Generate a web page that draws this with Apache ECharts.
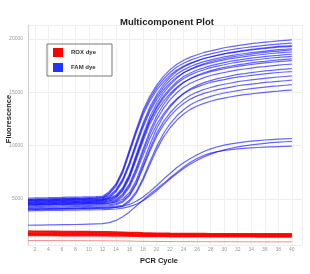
<!DOCTYPE html>
<html>
<head>
<meta charset="utf-8">
<script src="https://cdn.jsdelivr.net/npm/echarts@6/dist/echarts.min.js"></script>
<style>
  html, body { margin: 0; padding: 0; background: #fff; }
  #chart { width: 310px; height: 274px; }
</style>
</head>
<body>
<div id="chart"></div>
<script>
var cycles = [1,2,3,4,5,6,7,8,9,10,11,12,13,14,15,16,17,18,19,20,21,22,23,24,25,26,27,28,29,30,31,32,33,34,35,36,37,38,39,40];
var xTicks = ['2','4','6','8','10','12','14','16','18','20','22','24','26','28','30','32','34','36','38','40'];
var yTicks = ['5000','10000','15000','20000'];

// FAM dye wells
var fam01 = [5100,5110,5125,5135,5150,5160,5175,5190,5200,5215,5230,5250,5690,6420,7740,9650,11550,13310,14630,15650,16460,17120,17630,18000,18290,18510,18730,18870,19020,19170,19270,19370,19460,19550,19620,19700,19750,19810,19860,19900];
var fam02 = [5000,5010,5025,5035,5050,5060,5075,5090,5100,5115,5130,5150,5580,6310,7610,9490,11360,13100,14400,15410,16200,16850,17360,17720,18010,18230,18440,18590,18730,18880,18980,19080,19170,19250,19330,19400,19460,19510,19560,19600];
var fam03 = [4950,4960,4975,4985,5000,5010,5025,5040,5050,5065,5080,5100,5320,5890,6890,8460,10320,12110,13610,14750,15680,16400,16970,17370,17680,17940,18160,18330,18470,18610,18730,18830,18930,19010,19090,19160,19230,19290,19330,19370];
var fam04 = [4900,4910,4925,4935,4950,4960,4975,4990,5000,5015,5030,5050,5480,6190,7470,9330,11180,12890,14170,15170,15950,16590,17090,17450,17730,17950,18160,18300,18450,18590,18690,18790,18870,18960,19030,19100,19160,19220,19260,19300];
var fam05 = [4850,4860,4875,4885,4900,4910,4925,4940,4950,4965,4980,5000,5210,5780,6760,8310,10150,11910,13390,14520,15430,16140,16700,17100,17410,17660,17870,18040,18180,18320,18440,18540,18630,18720,18790,18860,18930,18990,19030,19070];
var fam06 = [4800,4810,4825,4835,4850,4860,4875,4890,4900,4915,4930,4950,5090,5370,6070,7340,9170,10990,12680,13940,14930,15700,16330,16820,17170,17450,17670,17880,18020,18160,18300,18400,18490,18580,18660,18730,18800,18860,18920,18960];
var fam07 = [4750,4760,4775,4785,4800,4810,4825,4840,4850,4865,4880,4900,5110,5670,6640,8170,9970,11710,13170,14280,15190,15880,16440,16830,17130,17380,17590,17760,17900,18040,18150,18240,18340,18420,18490,18560,18630,18690,18730,18770];
var fam08 = [4700,4710,4725,4735,4750,4760,4775,4790,4800,4815,4830,4850,4990,5260,5950,7190,8980,10760,12410,13650,14610,15370,15990,16470,16810,17090,17290,17500,17640,17780,17910,18010,18110,18190,18270,18340,18410,18460,18520,18560];
var fam09 = [4650,4660,4675,4685,4700,4710,4725,4740,4750,4765,4780,4800,4940,5210,5890,7110,8880,10650,12280,13500,14460,15200,15820,16290,16630,16900,17110,17310,17450,17580,17720,17820,17910,17990,18070,18140,18210,18260,18320,18360];
var fam10 = [4600,4610,4625,4635,4650,4660,4675,4690,4700,4715,4730,4750,4820,4950,5490,6430,7910,9660,11340,12750,13830,14700,15380,15910,16290,16590,16830,17030,17190,17330,17460,17570,17660,17760,17840,17900,17970,18040,18090,18130];
var fam11 = [4550,4560,4575,4585,4600,4610,4625,4640,4650,4665,4680,4700,4830,5100,5760,6960,8690,10420,12020,13210,14140,14880,15470,15940,16270,16540,16740,16940,17070,17200,17340,17430,17520,17600,17680,17750,17810,17870,17920,17960];
var fam12 = [4500,4510,4525,4535,4550,4560,4575,4590,4600,4615,4630,4650,4720,4850,5370,6280,7720,9410,11050,12420,13460,14310,14960,15480,15850,16130,16370,16570,16720,16850,16980,17090,17180,17270,17350,17410,17480,17540,17600,17640];
var fam13 = [4450,4460,4475,4485,4500,4510,4525,4540,4550,4565,4580,4600,4610,4730,4980,5620,6760,8410,10060,11590,12730,13620,14320,14890,15330,15650,15900,16090,16280,16410,16540,16670,16750,16840,16920,17000,17060,17120,17170,17220];
var fam14 = [4400,4410,4425,4435,4450,4460,4475,4490,4500,4515,4530,4550,4610,4740,5240,6110,7480,9090,10650,11960,12950,13760,14390,14880,15230,15510,15730,15920,16070,16190,16320,16420,16500,16590,16660,16730,16790,16850,16900,16940];
var fam15 = [4300,4310,4325,4335,4350,4360,4375,4390,4400,4415,4430,4450,4460,4570,4820,5420,6520,8100,9680,11130,12230,13080,13750,14290,14720,15020,15260,15450,15630,15750,15870,15990,16080,16160,16240,16310,16370,16430,16480,16530];
var fam16 = [4200,4210,4225,4235,4250,4260,4275,4290,4300,4315,4330,4350,4360,4470,4710,5300,6370,7910,9450,10870,11930,12760,13420,13950,14360,14660,14900,15070,15250,15370,15490,15610,15690,15770,15840,15920,15970,16030,16080,16130];
var fam17 = [4100,4110,4125,4135,4150,4160,4175,4190,4200,4215,4230,4250,4255,4310,4420,4890,5690,6960,8470,9910,11120,12050,12800,13370,13840,14160,14410,14620,14790,14930,15050,15160,15260,15340,15420,15490,15550,15600,15660,15710];
var fam18 = [4000,4010,4025,4035,4050,4060,4075,4090,4100,4115,4130,4150,4155,4210,4320,4760,5540,6770,8220,9610,10780,11680,12400,12960,13400,13720,13960,14160,14330,14460,14580,14690,14780,14850,14930,15000,15060,15110,15170,15210];
var fam19 = [4050,4060,4070,4080,4090,4100,4110,4120,4130,4140,4150,4160,4180,4230,4330,4500,4800,5200,5700,6250,6850,7400,7950,8400,8800,9150,9450,9700,9900,10050,10170,10270,10350,10420,10480,10530,10570,10610,10640,10670];
var fam20 = [3900,3910,3920,3930,3940,3950,3960,3970,3980,3990,4000,4010,4030,4070,4150,4290,4520,4850,5280,5780,6330,6880,7400,7870,8280,8640,8950,9210,9430,9610,9760,9880,9980,10070,10150,10220,10280,10330,10370,10410];
var fam21 = [2550,2560,2570,2580,2590,2600,2610,2620,2640,2660,2680,2700,2800,3000,3350,3800,4350,4900,5450,5950,6450,7000,7500,8000,8450,8800,9100,9300,9450,9550,9630,9700,9750,9790,9830,9860,9890,9910,9930,9950];

// ROX dye wells
var rox01 = [2000,1995,1990,1985,1980,1975,1970,1965,1960,1955,1950,1940,1930,1915,1900,1880,1860,1840,1825,1810,1800,1790,1785,1780,1775,1770,1768,1765,1762,1760,1758,1756,1754,1752,1750,1748,1746,1745,1744,1742];
var rox02 = [1920,1916,1912,1907,1903,1898,1894,1890,1885,1880,1875,1866,1857,1843,1829,1810,1792,1773,1760,1746,1736,1727,1722,1718,1713,1708,1706,1704,1701,1699,1697,1695,1693,1691,1689,1687,1685,1684,1683,1681];
var rox03 = [1830,1826,1822,1818,1814,1810,1806,1802,1798,1794,1790,1782,1774,1762,1750,1734,1718,1702,1690,1678,1670,1662,1658,1654,1650,1646,1644,1642,1640,1638,1636,1634,1632,1630,1628,1626,1624,1623,1622,1620];
var rox04 = [1760,1756,1753,1749,1746,1742,1739,1735,1732,1728,1725,1718,1711,1700,1690,1676,1662,1648,1638,1627,1620,1613,1610,1606,1603,1599,1598,1596,1594,1592,1591,1589,1588,1586,1585,1583,1582,1581,1580,1579];
var rox05 = [1680,1677,1674,1671,1668,1665,1662,1659,1656,1653,1650,1644,1638,1629,1620,1608,1596,1584,1575,1566,1560,1554,1551,1548,1545,1542,1541,1539,1538,1536,1535,1534,1532,1531,1530,1529,1528,1527,1526,1525];
var rox06 = [1590,1587,1584,1581,1578,1575,1572,1569,1566,1563,1560,1555,1550,1542,1535,1525,1515,1505,1497,1490,1485,1480,1477,1475,1472,1470,1469,1468,1466,1465,1464,1463,1462,1461,1460,1459,1458,1457,1457,1456];
var rox07 = [1120,1118,1116,1114,1112,1110,1108,1106,1104,1102,1100,1095,1090,1082,1075,1065,1055,1045,1037,1030,1025,1020,1017,1015,1012,1010,1009,1008,1006,1005,1004,1003,1002,1001,1000,999,998,997,997,996];

var famWells = [fam01,fam02,fam03,fam04,fam05,fam06,fam07,fam08,fam09,fam10,fam11,fam12,fam13,fam14,fam15,fam16,fam17,fam18,fam19,fam20,fam21];
var roxWells = [rox01,rox02,rox03,rox04,rox05,rox06];
var roxFaint = [rox07];

var font = 'Liberation Sans, Arial, sans-serif';

function pairs(vals) {
  return cycles.map(function(c, i) { return [c, vals[i]]; });
}

var series = [];
roxWells.forEach(function(w) {
  series.push({ name: 'ROX dye', type: 'line', data: pairs(w), symbol: 'none', silent: true,
    color: '#ff0000', lineStyle: { color: '#ff0000', width: 1.5, opacity: 0.9 } });
});
roxFaint.forEach(function(w) {
  series.push({ name: 'ROX dye', type: 'line', data: pairs(w), symbol: 'none', silent: true,
    color: '#ff0000', lineStyle: { color: '#f07070', width: 1, opacity: 0.8 } });
});
famWells.forEach(function(w) {
  series.push({ name: 'FAM dye', type: 'line', data: pairs(w), symbol: 'none', silent: true,
    color: '#0000ff', lineStyle: { color: '#0000ff', width: 1.2, opacity: 0.6 } });
});

var chart = echarts.init(document.getElementById('chart'), null, { renderer: 'canvas' });
chart.setOption({
  animation: false,
  backgroundColor: '#fff',
  title: {
    text: 'Multicomponent Plot',
    left: 115, top: 12,
    textStyle: { fontFamily: font, fontSize: 9.5, fontWeight: 'bold', color: '#222' }
  },
  legend: {
    orient: 'vertical',
    left: 47, top: 44,
    padding: [4, 16, 4, 6],
    itemGap: 6,
    itemWidth: 10, itemHeight: 9,
    icon: 'rect',
    borderColor: '#777', borderWidth: 1,
    selectedMode: false,
    textStyle: { fontFamily: font, fontSize: 6, fontWeight: 'bold', color: '#333', padding: [0, 0, 0, 3] },
    data: [
      { name: 'ROX dye', itemStyle: { color: '#ff0000', opacity: 1 } },
      { name: 'FAM dye', itemStyle: { color: '#2233ff', opacity: 1 } }
    ]
  },
  graphic: [{
    type: 'text', x: 8.5, y: 119, rotation: Math.PI / 2,
    style: { text: 'Fluorescence', font: 'bold 7.5px ' + font, fill: '#222', align: 'center', verticalAlign: 'middle' }
  }],
  grid: { left: 28, right: 8, top: 25, bottom: 29 },
  xAxis: {
    type: 'value',
    min: 1, max: 41.5,
    splitNumber: 20,
    name: 'PCR Cycle',
    nameLocation: 'middle',
    nameGap: 12,
    nameTextStyle: { fontFamily: font, fontSize: 7.5, fontWeight: 'bold', color: '#222', padding: [0, 12, 0, 0] },
    axisLine: { show: false },
    axisTick: { show: false },
    axisLabel: {
      fontFamily: font, fontSize: 5, color: '#999', margin: 2,
      showMinLabel: false, showMaxLabel: false,
      formatter: function(v) { return xTicks.indexOf(String(v)) >= 0 ? String(v) : ''; }
    },
    splitLine: { show: true, lineStyle: { color: '#f0f0f0', width: 1 } }
  },
  yAxis: {
    type: 'value',
    min: 700, max: 21300,
    splitNumber: 5,
    axisLine: { show: true, lineStyle: { color: '#cfcfcf', width: 1 } },
    axisTick: { show: false },
    axisLabel: {
      fontFamily: font, fontSize: 5, color: '#999', margin: 5,
      showMinLabel: false, showMaxLabel: false,
      formatter: function(v) { return yTicks.indexOf(String(v)) >= 0 ? String(v) : ''; }
    },
    splitLine: { show: true, lineStyle: { color: '#eeeeee', width: 1 } }
  },
  series: series
});
</script>
</body>
</html>
